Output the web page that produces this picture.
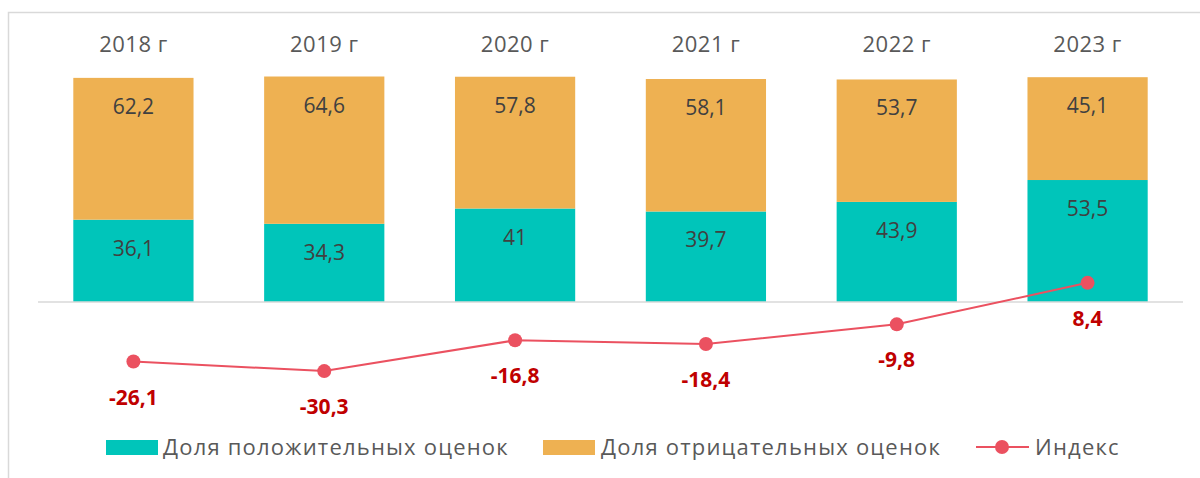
<!DOCTYPE html>
<html>
<head>
<meta charset="utf-8">
<script src="https://cdn.jsdelivr.net/npm/d3@7"></script>
<style>
  body { margin: 0; background: #fff; }
  text { font-family: 'Open Sans', 'DejaVu Sans', sans-serif; }
</style>
</head>
<body>
<div id="chart"></div>
<script>
const years = ['2018 г', '2019 г', '2020 г', '2021 г', '2022 г', '2023 г']
const positive = [36.1, 34.3, 41, 39.7, 43.9, 53.5]
const negative = [62.2, 64.6, 57.8, 58.1, 53.7, 45.1]
const indexValues = [-26.1, -30.3, -16.8, -18.4, -9.8, 8.4]
const legendLabels = ['Доля положительных оценок', 'Доля отрицательных оценок', 'Индекс']

const width = 1200
const height = 478

const colors = { pos: '#00C5BA', neg: '#EEB152', line: '#EB5160', lineLabel: '#C00000' }
const fmt = v => String(v).replace('.', ',')

const svg = d3
  .select('#chart')
  .append('svg')
  .attr('width', width)
  .attr('height', height)

// outer frame of the chart area
svg
  .append('rect')
  .attr('x', 8.5)
  .attr('y', 12.5)
  .attr('width', 1300)
  .attr('height', 600)
  .attr('fill', 'none')
  .attr('stroke', '#D9D9D9')
  .attr('stroke-width', 1.5)

const x = d3
  .scaleBand()
  .domain(years)
  .range([38, 1183])
  .paddingInner(0.37)
  .paddingOuter(0.185)

const y = d3
  .scaleLinear()
  .domain([0, 100])
  .range([302, 74])

const rows = years.map((year, i) => ({
  year,
  pos: positive[i],
  neg: negative[i],
  idx: indexValues[i]
}))

// year labels on top
svg
  .selectAll('.year')
  .data(rows)
  .enter()
  .append('text')
  .attr('x', d => x(d.year) + x.bandwidth() / 2)
  .attr('y', 52)
  .attr('text-anchor', 'middle')
  .attr('fill', '#595959')
  .attr('font-size', 22)
  .attr('letter-spacing', 0.5)
  .text(d => d.year)

const bars = svg
  .selectAll('.bar')
  .data(rows)
  .enter()
  .append('g')

bars
  .append('rect')
  .attr('x', d => x(d.year))
  .attr('width', x.bandwidth())
  .attr('y', d => y(d.pos))
  .attr('height', d => y(0) - y(d.pos))
  .attr('fill', colors.pos)

bars
  .append('rect')
  .attr('x', d => x(d.year))
  .attr('width', x.bandwidth())
  .attr('y', d => y(d.pos + d.neg))
  .attr('height', d => y(d.pos) - y(d.pos + d.neg))
  .attr('fill', colors.neg)

bars
  .append('text')
  .attr('x', d => x(d.year) + x.bandwidth() / 2)
  .attr('y', d => y(d.pos) + 36)
  .attr('text-anchor', 'middle')
  .attr('fill', '#404040')
  .attr('font-size', 21)
  .text(d => fmt(d.pos))

bars
  .append('text')
  .attr('x', d => x(d.year) + x.bandwidth() / 2)
  .attr('y', d => y(d.pos + d.neg) + 36)
  .attr('text-anchor', 'middle')
  .attr('fill', '#404040')
  .attr('font-size', 21)
  .text(d => fmt(d.neg))

// zero line
svg
  .append('line')
  .attr('x1', 38)
  .attr('x2', 1183)
  .attr('y1', y(0))
  .attr('y2', y(0))
  .attr('stroke', '#D9D9D9')
  .attr('stroke-width', 1.5)

// index line
const line = d3
  .line()
  .x(d => x(d.year) + x.bandwidth() / 2)
  .y(d => y(d.idx))

svg
  .append('path')
  .datum(rows)
  .attr('d', line)
  .attr('fill', 'none')
  .attr('stroke', colors.line)
  .attr('stroke-width', 2)

svg
  .selectAll('.dot')
  .data(rows)
  .enter()
  .append('circle')
  .attr('cx', d => x(d.year) + x.bandwidth() / 2)
  .attr('cy', d => y(d.idx))
  .attr('r', 7)
  .attr('fill', colors.line)

svg
  .selectAll('.idx-label')
  .data(rows)
  .enter()
  .append('text')
  .attr('x', d => x(d.year) + x.bandwidth() / 2)
  .attr('y', d => y(d.idx) + 43)
  .attr('text-anchor', 'middle')
  .attr('fill', colors.lineLabel)
  .attr('font-size', 21)
  .attr('font-weight', 'bold')
  .text(d => fmt(d.idx))

// legend
const legend = svg.append('g').attr('transform', 'translate(0,447)')

legend
  .append('rect')
  .attr('x', 106)
  .attr('y', -7)
  .attr('width', 52)
  .attr('height', 15)
  .attr('fill', colors.pos)
legend
  .append('text')
  .attr('x', 163)
  .attr('y', 8)
  .attr('fill', '#595959')
  .attr('font-size', 22)
  .attr('letter-spacing', 1.2)
  .text(legendLabels[0])

legend
  .append('rect')
  .attr('x', 543)
  .attr('y', -7)
  .attr('width', 52)
  .attr('height', 15)
  .attr('fill', colors.neg)
legend
  .append('text')
  .attr('x', 601)
  .attr('y', 8)
  .attr('fill', '#595959')
  .attr('font-size', 22)
  .attr('letter-spacing', 1.2)
  .text(legendLabels[1])

legend
  .append('line')
  .attr('x1', 976)
  .attr('x2', 1029)
  .attr('y1', 0)
  .attr('y2', 0)
  .attr('stroke', colors.line)
  .attr('stroke-width', 2)
legend
  .append('circle')
  .attr('cx', 1002)
  .attr('cy', 0)
  .attr('r', 7)
  .attr('fill', colors.line)
legend
  .append('text')
  .attr('x', 1035)
  .attr('y', 8)
  .attr('fill', '#595959')
  .attr('font-size', 22)
  .attr('letter-spacing', 1.2)
  .text(legendLabels[2])
</script>
</body>
</html>
